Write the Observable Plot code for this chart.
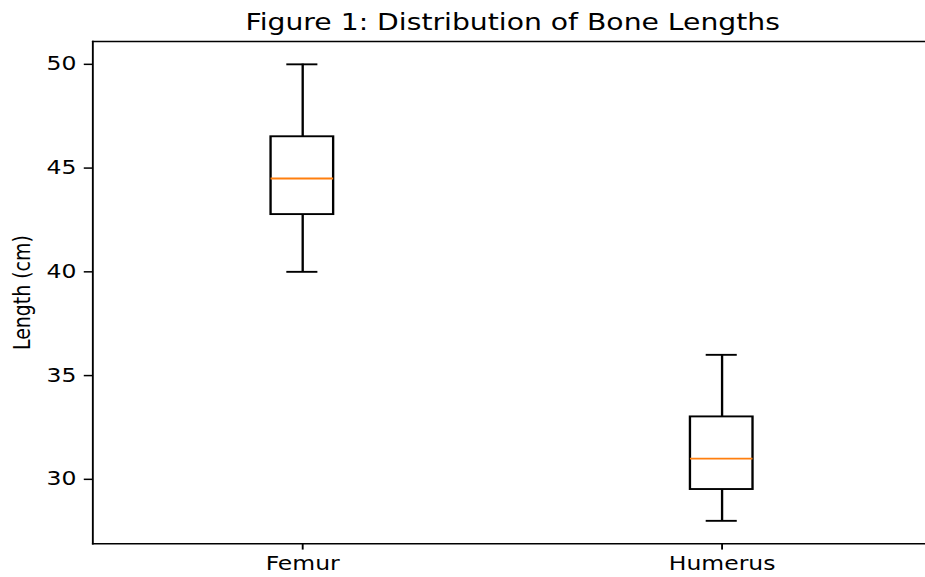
<!DOCTYPE html>
<html>
<head>
<meta charset="utf-8">
<script src="https://cdn.jsdelivr.net/npm/d3@7"></script>
<script src="https://cdn.jsdelivr.net/npm/@observablehq/plot@0.6"></script>
<style>
  html, body { margin: 0; padding: 0; background: #fff; overflow: hidden; }
  #chart { width: 925px; height: 577px; overflow: hidden; }
</style>
</head>
<body>
<div id="chart"></div>
<script>
// Data
const bones = ["Femur", "Humerus"];
const whiskerLow = [40, 28];
const q1 = [42.75, 29.5];
const median = [44.5, 31];
const q3 = [46.5, 33];
const whiskerHigh = [50, 36];
const yTicks = [30, 35, 40, 45, 50];
const title = "Figure 1: Distribution of Bone Lengths";
const yLabel = "Length (cm)";

const stats = bones.map((bone, i) => ({
  bone, low: whiskerLow[i], q1: q1[i], med: median[i], q3: q3[i], high: whiskerHigh[i]
}));

// The reference is a matplotlib figure stretched non-uniformly; draw in
// figure units and stretch the SVG to the page size.
const W = 547, H = 424;
const mLeft = 54.4, mTop = 30, mBottom = 25;
const xEnd = 551.1;                 // axes right edge lies just beyond the crop
const step = (xEnd - mLeft) / 2;
const boxW = 0.15 * step;
const lw = 1.39, axisLw = 1.11, tick = 4.86, fs = 13.9;

const chart = Plot.plot({
  width: W,
  height: H,
  marginLeft: mLeft,
  marginRight: 0,
  marginTop: mTop,
  marginBottom: mBottom,
  style: { fontFamily: "DejaVu Sans", color: "#000", background: "#fff", overflow: "visible" },
  x: { type: "band", domain: bones, range: [mLeft, xEnd], paddingInner: 0.85, paddingOuter: 0.425 },
  y: { domain: [26.9, 51.1] },
  marks: [
    Plot.frame({ anchor: "left", stroke: "#000", strokeWidth: axisLw }),
    Plot.frame({ anchor: "top", stroke: "#000", strokeWidth: axisLw }),
    Plot.frame({ anchor: "bottom", stroke: "#000", strokeWidth: axisLw }),
    Plot.axisY({ ticks: yTicks, tickSize: tick, tickPadding: tick, fontSize: fs, label: null, strokeWidth: axisLw }),
    Plot.axisX({ tickSize: tick, tickPadding: tick, fontSize: fs, label: null, strokeWidth: axisLw }),
    Plot.ruleX(stats, { x: "bone", y1: "low", y2: "q1", stroke: "#000", strokeWidth: lw }),
    Plot.ruleX(stats, { x: "bone", y1: "q3", y2: "high", stroke: "#000", strokeWidth: lw }),
    Plot.tickY(stats, { x: "bone", y: "low", stroke: "#000", strokeWidth: lw, insetLeft: boxW / 4, insetRight: boxW / 4 }),
    Plot.tickY(stats, { x: "bone", y: "high", stroke: "#000", strokeWidth: lw, insetLeft: boxW / 4, insetRight: boxW / 4 }),
    Plot.barY(stats, { x: "bone", y1: "q1", y2: "q3", fill: "#fff", stroke: "#000", strokeWidth: lw }),
    Plot.tickY(stats, { x: "bone", y: "med", stroke: "#ff7f0e", strokeWidth: lw }),
    Plot.text([title], { frameAnchor: "top", textAnchor: "middle", lineAnchor: "bottom", dx: 2, dy: -8.3, fontSize: 16.7, fill: "#000" }),
    Plot.text([yLabel], { frameAnchor: "left", textAnchor: "middle", lineAnchor: "middle", rotate: -90, dx: -41.6, fontSize: fs, fill: "#000" })
  ]
});

chart.setAttribute("width", 925);
chart.setAttribute("height", 577);
chart.setAttribute("preserveAspectRatio", "none");
chart.style.width = "925px";
chart.style.height = "577px";
chart.style.maxWidth = "none";
document.getElementById("chart").appendChild(chart);
</script>
</body>
</html>
